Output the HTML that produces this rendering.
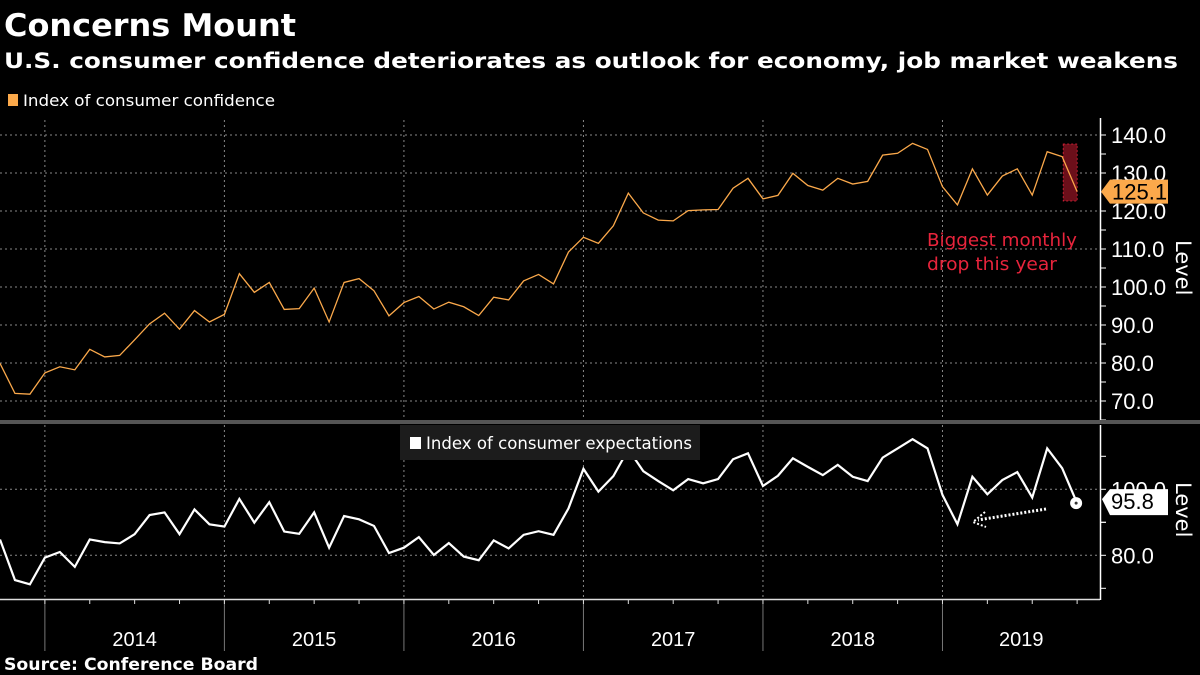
<!DOCTYPE html>
<html><head><meta charset="utf-8"><style>
html,body{margin:0;padding:0;background:#000;width:1200px;height:675px;overflow:hidden}
svg{display:block}
text{font-family:"DejaVu Sans","Liberation Sans",sans-serif}
.ls{font-family:"Liberation Sans",sans-serif}
</style></head><body>
<svg id="chart" width="1200" height="675" viewBox="0 0 1200 675">
<text x="4" y="36" fill="#fff" font-size="31" font-weight="bold" textLength="292" lengthAdjust="spacingAndGlyphs">Concerns Mount</text>
<text x="4" y="68" fill="#fff" font-size="21" font-weight="bold" textLength="1174" lengthAdjust="spacingAndGlyphs">U.S. consumer confidence deteriorates as outlook for economy, job market weakens</text>
<rect x="8" y="94" width="10" height="12" fill="#fba94b"/>
<text x="23" y="106" fill="#fff" font-size="16" textLength="252" lengthAdjust="spacingAndGlyphs">Index of consumer confidence</text>
<g id="grid"></g>
<g id="top"></g>
<g id="bot"></g>
<rect x="0" y="420" width="1200" height="4" fill="#555"/>
<rect x="400" y="425" width="300" height="35" fill="#1c1c1c"/>
<rect x="410" y="437" width="11" height="12" fill="#fff"/>
<text x="426" y="449" fill="#fff" font-size="17" textLength="266" lengthAdjust="spacingAndGlyphs">Index of consumer expectations</text>
<text x="927" y="246" fill="#e8243c" font-size="18" textLength="150" lengthAdjust="spacingAndGlyphs">Biggest monthly</text>
<text x="927" y="270" fill="#e8243c" font-size="18" textLength="130" lengthAdjust="spacingAndGlyphs">drop this year</text>
<text transform="translate(1176,240) rotate(90)" fill="#fff" font-size="21">Level</text>
<text transform="translate(1176,482) rotate(90)" fill="#fff" font-size="21">Level</text>
<text x="4" y="670" fill="#fff" font-size="17" font-weight="bold" textLength="254" lengthAdjust="spacingAndGlyphs">Source: Conference Board</text>
</svg>
<script>
const confidence=[79.9,72.0,71.8,77.4,79.0,78.2,83.6,81.6,82.0,86.1,90.3,93.1,88.9,93.8,90.8,92.8,103.5,98.6,101.2,94.1,94.3,99.7,90.8,101.2,102.2,99.0,92.4,95.9,97.5,94.2,96.0,94.8,92.5,97.3,96.6,101.6,103.3,100.8,109.2,113.1,111.5,116.1,124.7,119.5,117.6,117.4,120.1,120.3,120.4,126.0,128.6,123.2,124.1,129.9,126.7,125.5,128.6,127.1,127.8,134.7,135.2,137.8,136.2,126.4,121.6,131.1,124.2,129.2,131.1,124.2,135.6,134.3,125.1];
const expectations=[84.8,72.5,71.2,79.3,81.0,76.5,84.8,84.0,83.6,86.4,92.2,93.0,86.4,93.9,89.4,88.7,97.1,89.9,96.1,87.2,86.5,93.0,82.3,91.9,90.9,88.9,80.7,82.3,85.5,80.1,83.7,79.6,78.5,84.5,82.1,86.2,87.3,86.2,94.2,106.2,99.3,104.0,112.1,105.5,102.5,99.7,103.1,101.8,103.1,109.1,110.9,101.0,104.1,109.4,106.8,104.3,107.4,103.8,102.5,109.6,112.4,115.2,112.4,98.3,89.4,103.8,98.5,102.8,105.2,97.5,112.4,106.4,95.8];
const years=["2014","2015","2016","2017","2018","2019"];
const topTicks=[70,80,90,100,110,120,130,140];
const botTicks=[80,100];
const NS="http://www.w3.org/2000/svg";
function mk(t,a,p){const e=document.createElementNS(NS,t);for(const k in a)e.setAttribute(k,a[k]);p.appendChild(e);return e;}
const xOf=i=>i*14.96;
const yTop=v=>287-(v-100)*3.8;
const yBot=v=>489.3-(v-100)*3.3;
const grid=document.getElementById('grid'),top_=document.getElementById('top'),bot=document.getElementById('bot');
years.forEach((y,k)=>{
  const x=xOf(3+12*k);
  let l=mk('line',{x1:x,x2:x,y1:120,y2:420,stroke:'#888','stroke-dasharray':'2,3','stroke-width':1},grid);
  
  
  l=mk('line',{x1:x,x2:x,y1:425,y2:599,stroke:'#888','stroke-dasharray':'2,3','stroke-width':1},grid);
  
  
  l=mk('line',{x1:x,x2:x,y1:599,y2:651,stroke:'#777','stroke-width':1},grid);
  
  
  const xe=k<years.length-1?xOf(3+12*(k+1)):1100;
  const t=mk('text',{x:(x+xe)/2,y:646,fill:'#fff','font-size':20,'text-anchor':'middle','class':'ls'},grid);
  t.textContent=y;
  
  
});
let ax=mk('line',{x1:0,x2:1100,y1:599.5,y2:599.5,stroke:'#ddd','stroke-width':1.5},grid);


for(let m=0;m<=72;m+=3){const x=xOf(m+3);if(x<0||x>1100)continue;const tk=mk('line',{x1:x,x2:x,y1:599,y2:604,stroke:'#ddd'},grid);

}
let ay=mk('line',{x1:1100.5,x2:1100.5,y1:118,y2:420,stroke:'#fff','stroke-width':1.5},grid);


ay=mk('line',{x1:1100.5,x2:1100.5,y1:425,y2:600,stroke:'#fff','stroke-width':1.5},grid);


topTicks.forEach(v=>{const y=yTop(v);
  const g=mk('line',{x1:0,x2:1100,y1:y,y2:y,stroke:'#888','stroke-dasharray':'2,3'},grid);
  
  
  mk('line',{x1:1100,x2:1106,y1:y,y2:y,stroke:'#fff'},grid);
  mk('line',{x1:1100,x2:1106,y1:y+19,y2:y+19,stroke:'#fff'},grid);
  const t=mk('text',{x:1111,y:y+8,fill:'#fff','font-size':22,'class':'ls'},grid);t.textContent=v.toFixed(1);
  
  });
botTicks.forEach(v=>{const y=yBot(v);
  const g=mk('line',{x1:0,x2:1100,y1:y,y2:y,stroke:'#888','stroke-dasharray':'2,3'},grid);
  
  
  mk('line',{x1:1100,x2:1106,y1:y,y2:y,stroke:'#fff'},grid);
  mk('line',{x1:1100,x2:1106,y1:y+33,y2:y+33,stroke:'#fff'},grid);
  mk('line',{x1:1100,x2:1106,y1:y-33,y2:y-33,stroke:'#fff'},grid);
  const t=mk('text',{x:1111,y:y+8,fill:'#fff','font-size':22,'class':'ls'},grid);t.textContent=v.toFixed(1);
  
  });
const n=confidence.length;
let hb=mk('rect',{x:xOf(n-2)+1,y:144,width:14,height:57,fill:'#6b0f1a',stroke:'#e8243c','stroke-width':0.7,'stroke-dasharray':'2,2'},top_);


let pl=mk('polyline',{points:confidence.map((v,i)=>xOf(i)+','+yTop(v)).join(' '),fill:'none',stroke:'#fba94b','stroke-width':1.3},top_);


pl=mk('polyline',{points:expectations.map((v,i)=>xOf(i)+','+yBot(v)).join(' '),fill:'none',stroke:'#fff','stroke-width':2.2},bot);


const lc=confidence[n-1],yc=yTop(lc);
let lb=mk('path',{d:`M1101,${yc} L1110,${yc-12} H1168 V${yc+12} H1110 Z`,fill:'#fba94b'},top_);


let lt=mk('text',{x:1112,y:yc+8,fill:'#000','font-size':22,'class':'ls'},top_);lt.textContent=lc.toFixed(1);


const le=expectations[n-1],ye=yBot(le);
lb=mk('path',{d:`M1102,${ye-4} L1110,${ye-14} H1168 V${ye+12} H1110 Z`,fill:'#fff'},bot);


lt=mk('text',{x:1111,y:ye+6,fill:'#000','font-size':22,'class':'ls'},bot);lt.textContent=le.toFixed(1);


let c=mk('circle',{cx:xOf(n-1)-1,cy:ye,r:6,fill:'#fff'},bot);


mk('circle',{cx:xOf(n-1)-1,cy:ye,r:1.5,fill:'#333'},bot);
let ar=mk('line',{x1:1046,y1:509,x2:978,y2:520,stroke:'#fff','stroke-width':3,'stroke-dasharray':'2,2'},bot);


mk('path',{d:'M985,512 L973,522 L986,527',fill:'none',stroke:'#fff','stroke-width':2,'stroke-dasharray':'2,2'},bot);
</script>
</body></html>
